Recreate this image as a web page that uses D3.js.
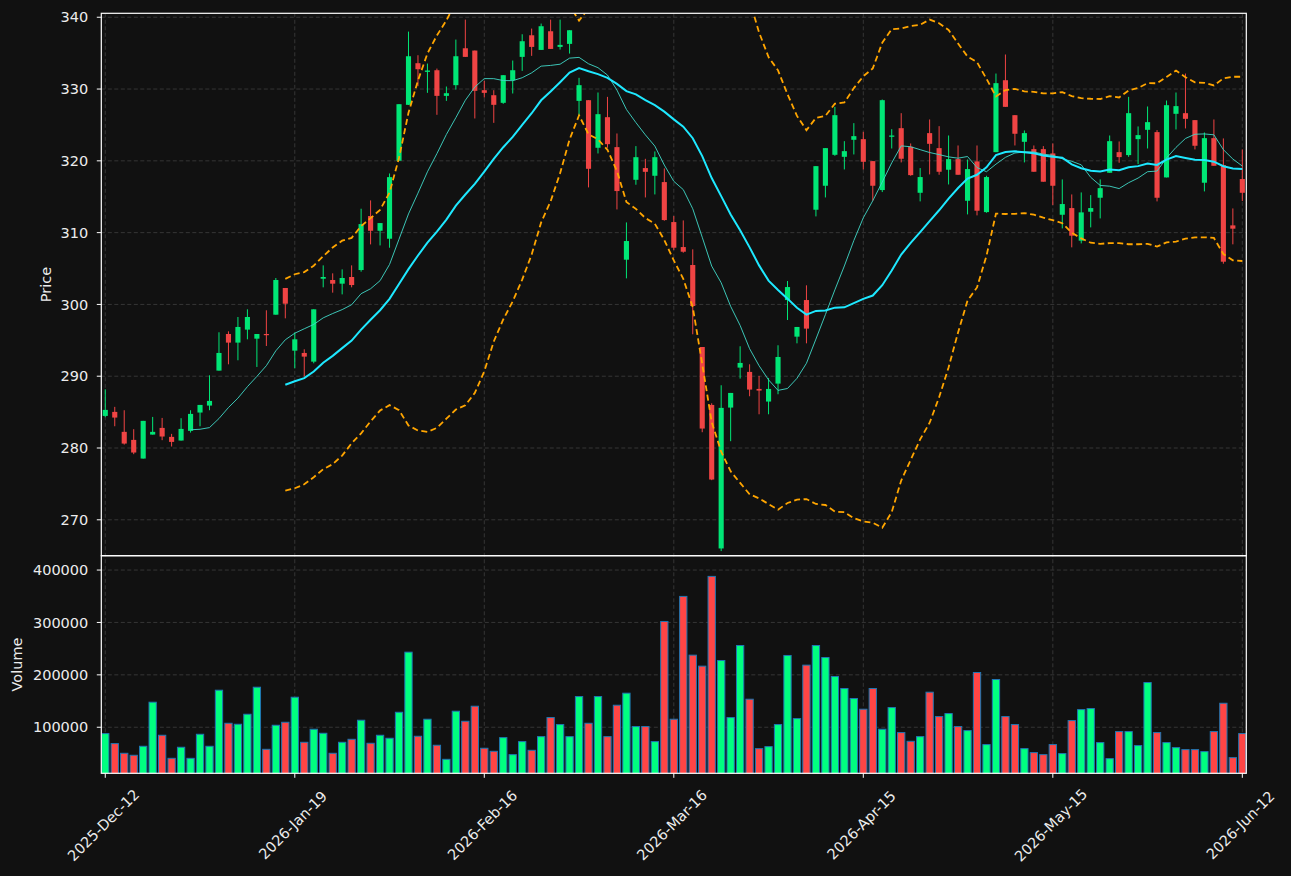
<!DOCTYPE html>
<html>
<head>
<meta charset="utf-8">
<script src="https://cdn.jsdelivr.net/npm/d3@7"></script>
<style>
  html, body { margin: 0; padding: 0; background: #111111; }
  svg { display: block; font-family: "DejaVu Sans", sans-serif; }
</style>
</head>
<body>
<div id="chart"></div>
<script>
// OHLC, one entry per trading bar (index based x axis)
var opens = [284.47,285.03,282.25,281.13,278.53,281.87,282.80,281.55,281.04,282.39,
  284.94,285.91,290.78,295.88,294.68,296.49,295.23,295.88,298.57,302.29,
  293.56,293.24,292.03,303.58,303.40,302.89,303.82,304.79,312.31,310.26,
  309.15,320.01,327.80,333.60,332.39,332.62,329.05,330.54,335.68,335.36,
  329.84,329.14,328.08,331.23,334.48,337.49,335.45,338.05,335.87,336.29,
  328.35,328.45,321.82,326.08,321.91,306.23,317.36,318.99,317.92,317.04,
  311.47,307.99,305.49,294.07,286.00,266.01,285.63,291.20,290.60,288.23,
  286.47,288.97,300.61,295.51,300.61,313.19,316.53,320.84,320.56,322.93,
  323.02,319.96,315.93,323.35,324.55,321.96,315.55,323.86,321.77,318.76,
  320.24,314.44,319.92,312.86,321.21,331.23,326.36,322.65,321.63,321.63,
  321.03,312.49,313.42,308.88,312.91,314.86,318.34,321.21,320.80,323.02,
  324.32,324.00,317.69,326.55,326.64,325.67,316.95,323.16,319.40,311.01,
  317.46];
var highs = [288.18,285.73,285.26,282.62,283.78,284.33,284.19,281.97,284.15,285.26,
  286.00,290.13,296.12,296.25,298.25,299.32,295.88,299.18,303.68,302.29,
  296.07,293.75,299.32,305.44,304.33,304.88,305.44,313.33,314.49,311.33,
  318.24,327.89,338.00,334.71,333.55,332.85,330.35,336.89,339.67,335.36,
  331.14,329.84,331.93,333.97,337.63,338.42,339.12,339.67,339.67,338.19,
  331.56,328.45,329.52,328.91,323.81,311.42,322.05,320.28,321.31,318.94,
  312.31,311.70,307.67,294.07,286.23,288.74,287.67,294.17,291.66,290.04,
  289.76,294.31,303.26,296.86,302.66,319.26,321.77,327.52,322.74,325.25,
  324.04,319.96,328.54,324.41,326.64,322.42,318.99,325.76,324.83,323.53,
  322.14,320.19,322.14,317.92,332.16,334.81,326.36,324.23,322.14,322.05,
  322.42,317.41,315.32,315.60,315.23,317.41,323.53,322.70,328.91,324.79,
  327.57,324.28,328.40,329.52,332.16,325.67,323.95,325.76,323.12,313.37,
  321.59];
var lows = [284.29,283.03,280.48,279.14,278.53,281.87,281.09,280.21,281.04,282.15,
  283.03,285.26,290.78,291.66,292.22,295.14,291.29,294.21,298.57,298.06,
  291.10,289.95,291.80,302.38,301.64,301.40,302.38,304.56,308.36,308.22,
  307.90,320.01,327.80,330.40,329.47,326.41,328.35,329.93,334.48,325.90,
  328.82,325.29,327.94,329.38,332.53,334.62,335.45,335.59,335.50,334.94,
  326.22,316.30,321.03,321.82,313.23,303.63,316.67,314.90,315.32,311.66,
  307.57,307.20,295.84,282.20,275.52,265.64,280.95,289.67,287.21,284.70,
  284.70,287.49,297.83,294.58,294.58,312.26,314.90,320.70,318.80,320.89,
  318.80,314.44,315.65,321.72,319.78,317.92,314.35,318.11,318.06,316.71,
  318.06,312.54,312.40,312.77,321.21,327.52,322.14,319.78,318.48,317.09,
  313.84,310.59,307.95,308.50,310.73,311.98,318.34,319.73,320.56,319.54,
  321.72,314.35,317.69,324.37,324.51,321.59,315.74,319.31,305.67,308.37,
  314.40];
var closes = [285.31,284.24,280.62,279.37,283.78,282.25,281.60,280.85,282.66,284.75,
  286.00,286.56,293.24,294.68,296.86,298.25,295.88,295.80,303.40,300.10,
  295.14,292.73,299.32,303.82,302.89,303.68,302.70,311.19,310.26,311.33,
  317.73,327.89,334.57,332.76,332.58,329.05,329.42,334.57,334.48,329.75,
  329.47,327.80,331.93,332.62,336.66,335.87,338.75,335.59,336.15,338.19,
  330.54,318.89,326.50,322.32,315.79,308.83,320.51,318.47,320.51,311.75,
  307.90,307.34,299.78,282.71,275.61,285.59,287.67,291.85,288.14,288.00,
  288.23,292.68,302.42,296.86,296.63,319.26,321.77,326.36,321.35,323.44,
  319.87,316.53,328.45,323.53,320.29,318.01,317.74,322.37,318.48,320.24,
  318.06,318.85,313.05,317.74,330.82,327.52,323.77,323.86,318.48,317.09,
  316.53,313.98,309.57,312.82,313.42,316.20,322.74,320.52,326.64,323.58,
  325.39,314.86,327.75,327.62,325.85,322.10,323.16,319.31,305.95,310.55,
  315.55];
var volumes = [87900,68800,50300,46500,63700,147800,84700,40700,61800,40700,
  86600,63700,170700,107600,105700,124800,176400,57900,103800,109500,
  157300,71300,96200,88500,50300,71300,77000,113400,69400,84700,
  79000,128600,243300,82800,115300,65600,38800,130600,111400,140100,
  59900,54100,80200,47700,72600,56000,82100,118500,105100,82100,
  158600,107600,158600,82100,142000,165000,101300,101300,72600,301900,
  115300,349700,237600,216600,387900,227400,118500,256000,153500,59200,
  63000,105100,237000,116500,218500,256000,233100,196800,173900,154800,
  134400,173900,96200,137600,89800,73200,82100,166900,120400,126100,
  101300,93600,204500,66900,191100,120400,105100,59200,51600,47700,
  66900,49700,112700,133700,135700,70700,40100,91700,91700,65000,
  185300,89800,70700,61100,57300,57300,53500,91700,145800,42000,
  87900];

var tickIdx = [0, 20, 40, 60, 80, 100, 120];
var tickLabels = ["2025-Dec-12", "2026-Jan-19", "2026-Feb-16", "2026-Mar-16",
                  "2026-Apr-15", "2026-May-15", "2026-Jun-12"];
var priceTicks = [270, 280, 290, 300, 310, 320, 330, 340];
var volumeTicks = [100000, 200000, 300000, 400000];

function init() {
    var w = 1291;
    var h = 876;
    var left = 101.3, right = 1246.3;
    var pTop = 13.3, pBottom = 555.7, vBottom = 773.3;
    var textColor = "#ececec";
    var gridColor = "#3a3a3a";

    var svg = d3.select("#chart")
                .append("svg")
                .attr("width", w)
                .attr("height", h);

    svg.append("rect").attr("width", w).attr("height", h).attr("fill", "#111111");

    var x = d3.scaleLinear().domain([-0.42, closes.length - 1 + 0.42]).range([left, right]);
    var yP = d3.scaleLinear().domain([265.0, 340.55]).range([pBottom, pTop]);
    var yV = d3.scaleLinear().domain([12100, 427400]).range([vBottom, pBottom]);
    var step = x(1) - x(0);

    var defs = svg.append("defs");
    defs.append("clipPath").attr("id", "clipP")
        .append("rect").attr("x", left).attr("y", pTop)
        .attr("width", right - left).attr("height", pBottom - pTop);
    defs.append("clipPath").attr("id", "clipV")
        .append("rect").attr("x", left).attr("y", pBottom)
        .attr("width", right - left).attr("height", vBottom - pBottom);

    // grid lines
    var grid = svg.append("g")
                  .attr("stroke", gridColor)
                  .attr("stroke-width", 0.9)
                  .attr("stroke-dasharray", "4,2.5");
    tickIdx.forEach(function(t) {
        grid.append("line").attr("x1", x(t)).attr("x2", x(t)).attr("y1", pTop).attr("y2", vBottom);
    });
    priceTicks.forEach(function(t) {
        grid.append("line").attr("x1", left).attr("x2", right).attr("y1", yP(t)).attr("y2", yP(t));
    });
    volumeTicks.forEach(function(t) {
        grid.append("line").attr("x1", left).attr("x2", right).attr("y1", yV(t)).attr("y2", yV(t));
    });

    // moving averages and bollinger bands, from the closes
    var ma10 = [], ma20 = [], upper = [], lower = [];
    closes.forEach(function(c, i) {
        if (i >= 9) ma10.push([i, d3.mean(closes.slice(i - 9, i + 1))]);
        if (i >= 19) {
            var win = closes.slice(i - 19, i + 1);
            var m = d3.mean(win);
            var sd = Math.sqrt(d3.mean(win, function(v) { return (v - m) * (v - m); }));
            ma20.push([i, m]);
            upper.push([i, m + 2 * sd]);
            lower.push([i, m - 2 * sd]);
        }
    });

    var line = d3.line().x(function(d) { return x(d[0]); }).y(function(d) { return yP(d[1]); });

    var price = svg.append("g").attr("clip-path", "url(#clipP)");

    // candles
    var candles = price.selectAll("g.candle")
                       .data(closes.map(function(c, i) {
                           return { i: i, o: opens[i], h: highs[i], l: lows[i], c: c };
                       }))
                       .enter()
                       .append("g")
                       .attr("class", "candle");

    candles.append("line")
           .attr("x1", d => x(d.i)).attr("x2", d => x(d.i))
           .attr("y1", d => yP(d.h)).attr("y2", d => yP(d.l))
           .attr("stroke", d => d.c >= d.o ? "#00e676" : "#f04444")
           .attr("stroke-width", 1);

    candles.append("rect")
           .attr("x", d => x(d.i) - step * 0.27)
           .attr("width", step * 0.54)
           .attr("y", d => yP(Math.max(d.o, d.c)))
           .attr("height", d => Math.max(1.2, Math.abs(yP(d.o) - yP(d.c))))
           .attr("fill", d => d.c >= d.o ? "#00e676" : "#f04444");

    price.append("path").datum(upper)
         .attr("d", line).attr("fill", "none")
         .attr("stroke", "#ffa500").attr("stroke-width", 1.8).attr("stroke-dasharray", "6,3.5");
    price.append("path").datum(lower)
         .attr("d", line).attr("fill", "none")
         .attr("stroke", "#ffa500").attr("stroke-width", 1.8).attr("stroke-dasharray", "6,3.5");
    price.append("path").datum(ma10)
         .attr("d", line).attr("fill", "none")
         .attr("stroke", "#40d8c8").attr("stroke-width", 1).attr("opacity", 0.9);
    price.append("path").datum(ma20)
         .attr("d", line).attr("fill", "none")
         .attr("stroke", "#1ee8ff").attr("stroke-width", 2);

    // volume bars
    svg.append("g").attr("clip-path", "url(#clipV)")
       .selectAll("rect")
       .data(volumes)
       .enter()
       .append("rect")
       .attr("x", (d, i) => x(i) - step * 0.385)
       .attr("width", step * 0.77)
       .attr("y", d => yV(d))
       .attr("height", d => yV(0) - yV(d))
       .attr("fill", (d, i) => closes[i] >= opens[i] ? "#00ff80" : "#ff4545")
       .attr("stroke", "#1f77b4")
       .attr("stroke-width", 1);

    // frames
    var frame = svg.append("g").attr("fill", "none").attr("stroke", "#ffffff").attr("stroke-width", 1.2);
    frame.append("rect").attr("x", left).attr("y", pTop).attr("width", right - left).attr("height", pBottom - pTop);
    frame.append("rect").attr("x", left).attr("y", pBottom).attr("width", right - left).attr("height", vBottom - pBottom);

    // y axes
    var axes = svg.append("g").attr("font-size", "14.5px").attr("fill", textColor);
    priceTicks.forEach(function(t) {
        axes.append("line").attr("x1", left - 4.5).attr("x2", left).attr("y1", yP(t)).attr("y2", yP(t))
            .attr("stroke", "#ffffff");
        axes.append("text").attr("x", left - 13).attr("y", yP(t)).attr("dy", "0.36em")
            .attr("text-anchor", "end").text(t);
    });
    volumeTicks.forEach(function(t) {
        axes.append("line").attr("x1", left - 4.5).attr("x2", left).attr("y1", yV(t)).attr("y2", yV(t))
            .attr("stroke", "#ffffff");
        axes.append("text").attr("x", left - 13).attr("y", yV(t)).attr("dy", "0.36em")
            .attr("text-anchor", "end").text(t);
    });

    // x axis
    tickIdx.forEach(function(t, k) {
        axes.append("line").attr("x1", x(t)).attr("x2", x(t)).attr("y1", vBottom).attr("y2", vBottom + 4.5)
            .attr("stroke", "#ffffff");
        axes.append("text")
            .attr("transform", "translate(" + (x(t) - 2) + "," + 825 + ") rotate(-45)")
            .attr("text-anchor", "middle")
            .attr("dy", "0.36em")
            .text(tickLabels[k]);
    });

    axes.append("text")
        .attr("transform", "translate(51," + ((pTop + pBottom) / 2) + ") rotate(-90)")
        .attr("text-anchor", "middle")
        .text("Price");
    axes.append("text")
        .attr("transform", "translate(22," + ((pBottom + vBottom) / 2) + ") rotate(-90)")
        .attr("text-anchor", "middle")
        .text("Volume");
}

window.onload = init;
</script>
</body>
</html>
